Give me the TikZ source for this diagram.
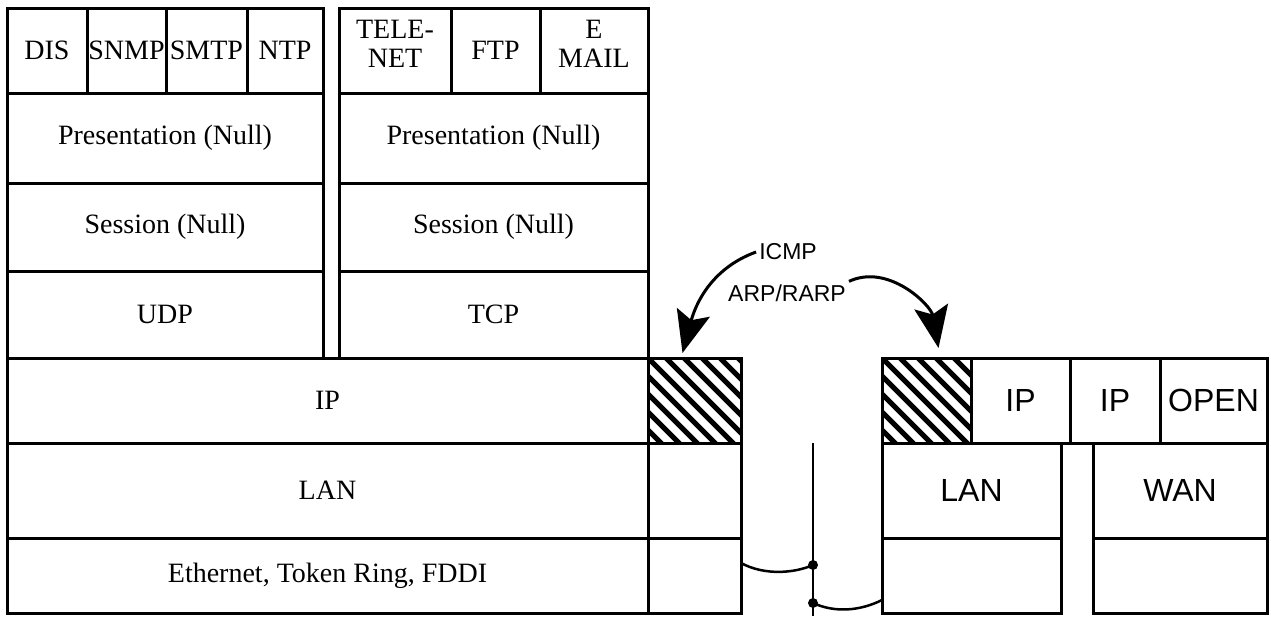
\documentclass[tikz,border=0pt]{standalone}
\usepackage{fontspec}
\setmainfont{Liberation Serif}
\newfontfamily\helv{Liberation Sans}
\usetikzlibrary{arrows.meta}

\begin{document}
\begin{tikzpicture}[x=1pt,y=-1pt,
  cell/.style={draw, line width=3pt, anchor=north west, inner sep=0pt, outer sep=0pt,
    align=center, font=\fontsize{28}{28}\selectfont},
  sanscell/.style={cell, font=\helv\fontsize{32}{32}\selectfont},
  wh/.style 2 args={minimum width=#1pt, minimum height=#2pt},
  twoline/.style={label={[align=center, inner sep=0pt, yshift=7pt,
    font=\fontsize{28}{29}\selectfont]center:#1}},
  hatch/.style={path picture={
    \foreach \k in {-5,...,5}
      \draw[line width=5pt] (path picture bounding box.north west) ++(\k*18pt,0) -- ++(130pt,-130pt);}},
  proto/.style={font=\helv\fontsize{23}{23}\selectfont, inner sep=3pt},
  callout/.style={line width=3pt, -{Stealth[length=42pt,width=34pt,inset=8pt]}},
  wire/.style={line width=2.5pt}
]
  \useasboundingbox (0,0) rectangle (1271,616);

  % left stack, two upper columns
  \node[cell, wh={80}{85}] (dis) at (7,8) {DIS};
  \node[cell, wh={79}{85}] (snmp) at (87,8) {SNMP};
  \node[cell, wh={81}{85}] (smtp) at (166,8) {SMTP};
  \node[cell, wh={76}{85}] (ntp) at (247,8) {NTP};
  \node[cell, wh={316}{90}] (presL) at (7,93) {Presentation (Null)};
  \node[cell, wh={316}{88}] (sessL) at (7,183) {Session (Null)};
  \node[cell, wh={316}{87}] (udp) at (7,271) {UDP};

  \node[cell, wh={112}{85}, twoline={TELE-\\NET}] (telenet) at (339,8) {};
  \node[cell, wh={89}{85}] (ftp) at (451,8) {FTP};
  \node[cell, wh={108}{85}, twoline={E\\MAIL}] (email) at (540,8) {};
  \node[cell, wh={309}{90}] (presR) at (339,93) {Presentation (Null)};
  \node[cell, wh={309}{88}] (sessR) at (339,183) {Session (Null)};
  \node[cell, wh={309}{87}] (tcp) at (339,271) {TCP};

  % left stack, lower rows
  \node[cell, wh={641}{85}] (ip) at (7,358) {IP};
  \node[cell, wh={641}{95}] (lan) at (7,443) {LAN};
  \node[cell, wh={641}{75}] (eth) at (7,538) {Ethernet, Token Ring, FDDI};
  \node[cell, hatch, wh={93}{85}] (hatchL) at (648,358) {};
  \node[cell, wh={93}{95}] (lanx) at (648,443) {};
  \node[cell, wh={93}{75}] (ethx) at (648,538) {};

  % right block
  \node[sanscell, hatch, wh={89}{85}] (hatchR) at (882,358) {};
  \node[sanscell, wh={99}{85}] (ipA) at (971,358) {IP};
  \node[sanscell, wh={90}{85}] (ipB) at (1070,358) {IP};
  \node[sanscell, wh={107}{85}] (open) at (1160,358) {OPEN};
  \node[sanscell, wh={179}{95}] (lanR) at (882,443) {LAN};
  \node[sanscell, wh={179}{75}] (lanRx) at (882,538) {};
  \node[sanscell, wh={174}{95}] (wan) at (1093,443) {WAN};
  \node[sanscell, wh={174}{75}] (wanx) at (1093,538) {};

  % protocols between
  \node[proto] (icmp) at (788,252) {ICMP};
  \node[proto] (arp) at (787,293) {ARP/RARP};
  \draw[callout] (icmp.west) to[out=200,in=75] ([shift={(-12pt,5pt)}]hatchL.north);
  \draw[callout] (arp.north east) to[out=25,in=100] ([shift={(12pt,10pt)}]hatchR.north);

  % cable
  \coordinate (busTop) at (813,443);
  \coordinate (busEnd) at (813,616);
  \coordinate (tapL) at (813,565);
  \coordinate (tapR) at (813,603);
  \coordinate (linkL) at (741,563);
  \coordinate (linkR) at (882,600);
  \draw[wire] (busTop) -- (busEnd);
  \draw[wire] (linkL) .. controls (765,576) and (795,573) .. (tapL);
  \draw[wire] (tapR) .. controls (835,613) and (860,611) .. (linkR);
  \fill (tapL) circle (5pt);
  \fill (tapR) circle (5pt);
\end{tikzpicture}
\end{document}
